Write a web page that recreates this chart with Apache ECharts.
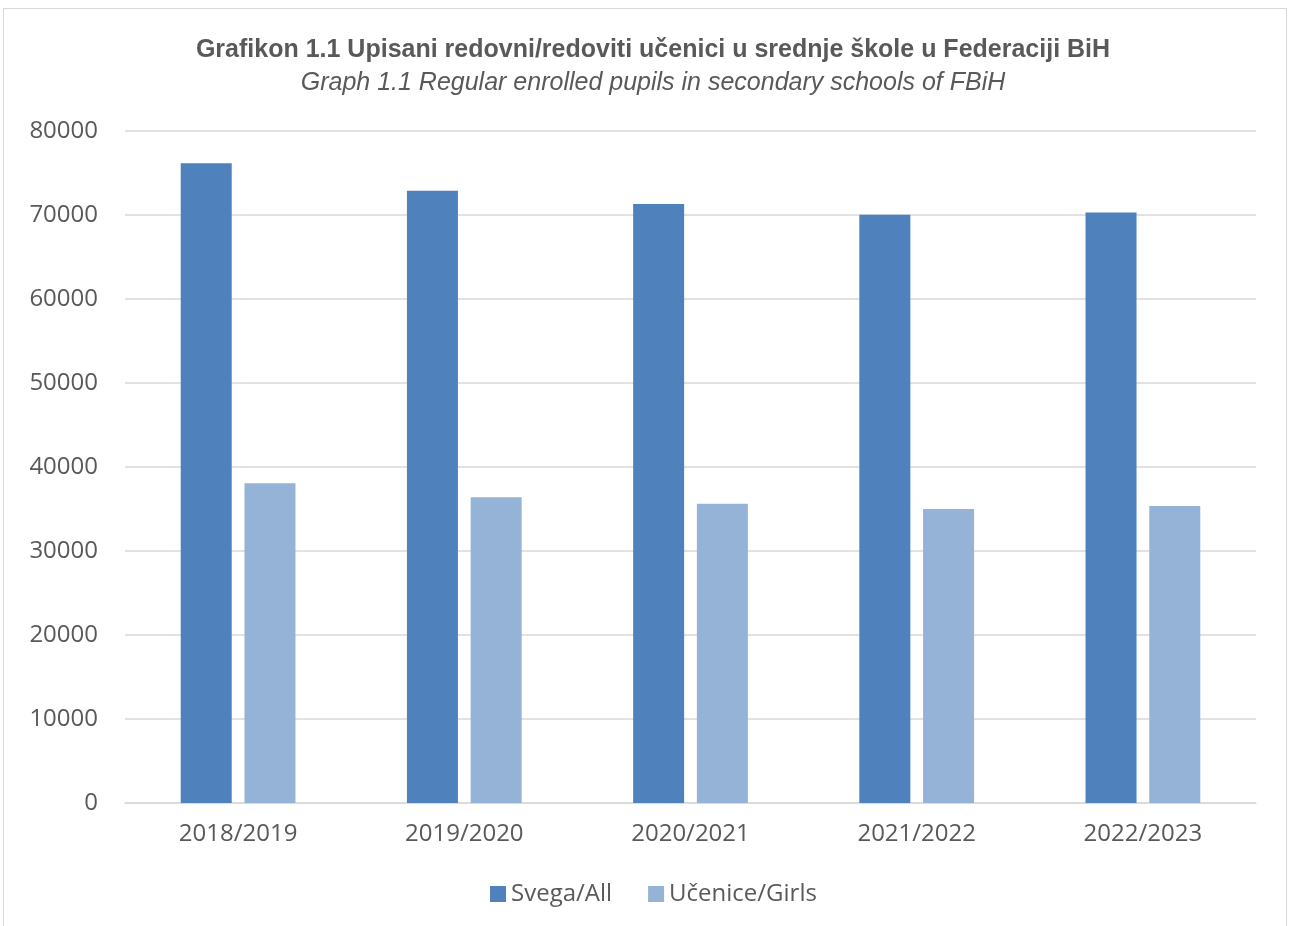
<!DOCTYPE html>
<html><head><meta charset="utf-8">
<script src="https://cdn.jsdelivr.net/npm/echarts@6/dist/echarts.min.js"></script>
<style>
html,body{margin:0;padding:0;background:#fff;}
#frame{position:absolute;left:3px;top:8px;width:1284px;height:940px;border:1px solid #d9d9d9;box-sizing:border-box;}
#c{position:absolute;left:0;top:0;width:1290px;height:926px;}
</style></head>
<body>
<div id="frame"></div>
<div id="c"></div>
<script>
const categories = ['2018/2019','2019/2020','2020/2021','2021/2022','2022/2023'];
const allPupils = [76150, 72900, 71300, 70030, 70300];
const girls = [38060, 36390, 35630, 35000, 35360];
const seriesNames = ['Svega/All','Učenice/Girls'];
const yTicks = {min:0, max:80000, interval:10000};

const chart = echarts.init(document.getElementById('c'), null, {renderer:'canvas'});
chart.setOption({
  animation:false,
  backgroundColor:'transparent',
  title:[{
    text:'Grafikon 1.1 Upisani redovni/redoviti učenici u srednje škole u Federaciji BiH',
    left:648, top:33, textAlign:'center',
    textStyle:{fontFamily:'Liberation Sans',fontWeight:'bold',fontSize:25,color:'#595959'}
  },{
    text:'Graph 1.1 Regular enrolled pupils in secondary schools of FBiH',
    left:648, top:66, textAlign:'center',
    textStyle:{fontFamily:'Liberation Sans',fontStyle:'italic',fontWeight:'normal',fontSize:25,color:'#595959'}
  }],
  legend:{
    data:seriesNames, top:882, left:490, padding:0, itemWidth:16, itemHeight:16, itemGap:36,
    icon:'rect',
    textStyle:{fontFamily:'Open Sans',fontSize:24,color:'#595959'}
  },
  grid:{left:125, right:34, top:131, bottom:123, containLabel:false},
  xAxis:{
    type:'category', data:categories,
    axisLine:{lineStyle:{color:'#d9d9d9',width:1.5}},
    axisTick:{show:false},
    axisLabel:{fontFamily:'Open Sans',fontSize:24,color:'#595959',margin:19}
  },
  yAxis:{
    type:'value', min:yTicks.min, max:yTicks.max, interval:yTicks.interval,
    axisLine:{show:false}, axisTick:{show:false},
    splitLine:{lineStyle:{color:'#d9d9d9',width:1.5}},
    axisLabel:{fontFamily:'Open Sans',fontSize:24,color:'#595959',margin:27,
      formatter:function(v){return String(v);}}
  },
  series:[{
    name:seriesNames[0], type:'bar', data:allPupils, barWidth:51, barGap:'25%',
    itemStyle:{color:'#4f81bd'}
  },{
    name:seriesNames[1], type:'bar', data:girls, barWidth:51,
    itemStyle:{color:'#95b3d7'}
  }]
});
</script>
</body></html>
